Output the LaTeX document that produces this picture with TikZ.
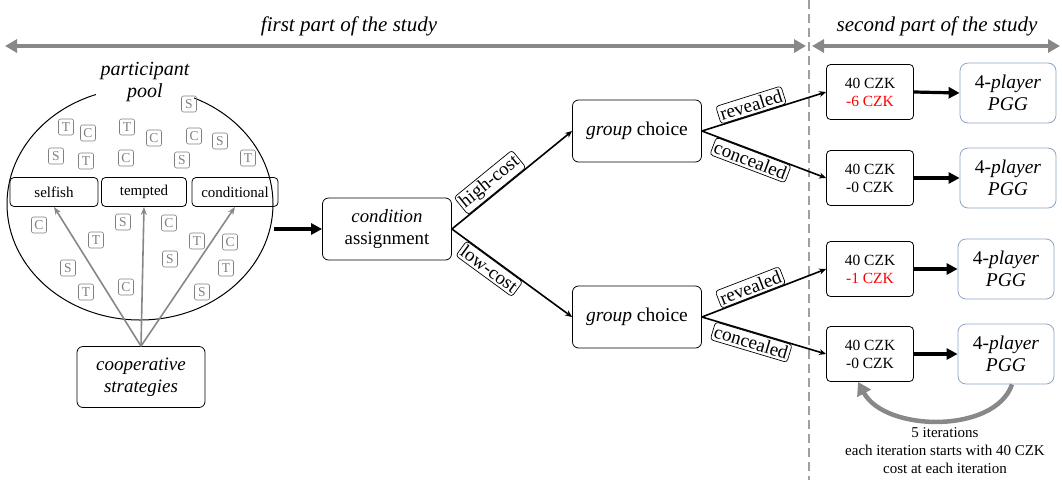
\documentclass[tikz,border=0pt]{standalone}
\usepackage{fontspec}
\setmainfont{Liberation Serif}
\usetikzlibrary{arrows.meta}
\definecolor{pggblue}{HTML}{8FA3C4}
\definecolor{gline}{HTML}{888888}
\begin{document}
\begin{tikzpicture}[x=1pt,y=-1pt,
  box/.style={draw, rounded corners=6pt, line width=0.8pt, align=center, inner sep=0pt},
  typebox/.style={box, rounded corners=4pt, minimum height=29pt, font=\fontsize{15}{17}\selectfont},
  lett/.style={draw=gray, text=gray, rounded corners=2pt, minimum width=15pt, minimum height=16pt, inner sep=0pt, font=\fontsize{13.5}{13.5}\selectfont, line width=0.6pt},
  lbl/.style={draw, rounded corners=3pt, fill=white, line width=0.7pt, inner xsep=2pt, inner ysep=2.5pt, font=\fontsize{19}{19}\selectfont},
  czk/.style={box, rounded corners=4pt, minimum width=87pt, minimum height=55pt, font=\fontsize{15.5}{18}\selectfont},
  pgg/.style={box, draw=pggblue, rounded corners=8pt, minimum width=96pt, minimum height=60pt, font=\fontsize{19.5}{22}\selectfont},
  thin/.style={line width=1.6pt, -{Stealth[length=7pt,width=6pt]}},
  thick/.style={line width=3.2pt, -{Triangle[length=11pt,width=11pt]}},
  garrow/.style={gline, line width=1.6pt, -{Stealth[length=8pt,width=6pt]}},
  toparrow/.style={gline, line width=3.5pt, {Triangle[length=12pt,width=13pt]}-{Triangle[length=12pt,width=13pt]}},
  toplbl/.style={font=\fontsize{21}{21}\selectfont\itshape}
]
\useasboundingbox (0,0) rectangle (1062,480);

% top part arrows
\coordinate (a1) at (5,46);
\coordinate (a2) at (806,46);
\coordinate (b1) at (812,46);
\coordinate (b2) at (1060,46);
\draw[toparrow] (a1) -- (a2);
\draw[toparrow] (b1) -- (b2);
\node[toplbl] (t1) at (349,26) {first part of the study};
\node[toplbl] (t2) at (937,26) {second part of the study};

% dashed separator
\coordinate (d1) at (809,0);
\coordinate (d2) at (809,480);
\draw[gline!80, line width=2.2pt, dash pattern=on 9pt off 5pt] (d1) -- (d2);

% participant pool
\draw[line width=1pt] (140,204) ellipse [x radius=133pt, y radius=116pt];
\node[fill=white, align=center, inner sep=1pt, font=\fontsize{20}{22}\selectfont\itshape, minimum width=98pt] (pp) at (145,82) {participant\\pool};

% letters
\foreach \l/\x/\y in {S/189/104, T/66/127, C/88/133, T/127/127, C/154/138, C/194/136, S/220/141,
  S/56/156, T/86/161, C/126/158, S/182/160, T/248/158,
  C/39/225, S/123/222, C/169/223, T/96/240, T/197/241, C/230/242, S/170/259,
  T/226/268, S/68/268, C/126/287, T/86/292, S/202/292}
  \node[lett] at (\x,\y) {\l};

\node[typebox, minimum width=88pt] (self) at (54,192) {selfish};
\node[typebox, minimum width=85pt] (temp) at (144,192) {tempted};
\node[typebox, minimum width=86pt] (cond) at (235,192) {conditional};

\node[box, minimum width=128pt, minimum height=61pt, font=\fontsize{19}{22}\selectfont\itshape] (coop) at (141,377) {cooperative\\strategies};
\draw[garrow] (coop.north) -- (self.south);
\draw[garrow] (coop.north) -- (temp.south);
\draw[garrow] (coop.north) -- (cond.south);

% condition assignment
\coordinate (pe) at (274,229);
\node[box, minimum width=129pt, minimum height=62pt, font=\fontsize{18.8}{22}\selectfont] (ca) at (387,229) {\textit{condition}\\assignment};
\draw[thick] (pe) -- (ca.west);

% group choices
\node[box, minimum width=129pt, minimum height=62pt, font=\fontsize{19.5}{22}\selectfont] (g1) at (637,131) {\textit{group} choice};
\node[box, minimum width=129pt, minimum height=62pt, font=\fontsize{19.5}{22}\selectfont] (g2) at (637,317) {\textit{group} choice};
\draw[thin] (ca.east) -- node[lbl, sloped, above=0.5pt, pos=0.38] {high-cost} (g1.west);
\draw[thin] (ca.east) -- node[lbl, sloped, below=0.5pt, pos=0.36] {low-cost} (g2.west);

% CZK boxes
\node[czk] (c1) at (870,92) {40 CZK\\\textcolor{red}{-6 CZK}};
\node[czk] (c2) at (870,178) {40 CZK\\-0 CZK};
\node[czk] (c3) at (870,269) {40 CZK\\\textcolor{red}{-1 CZK}};
\node[czk] (c4) at (870,354) {40 CZK\\-0 CZK};

\draw[thin] (g1.east) -- node[lbl, sloped, above=0.5pt, pos=0.42] {revealed} (c1.west);
\draw[thin] (g1.east) -- node[lbl, sloped, below=0.5pt, pos=0.42] {concealed} (c2.west);
\draw[thin] (g2.east) -- node[lbl, sloped, above=0.5pt, pos=0.42] {revealed} (c3.west);
\draw[thin] (g2.east) -- node[lbl, sloped, below=0.5pt, pos=0.42] {concealed} (c4.west);

% PGG boxes
\node[pgg] (p1) at (1008,93) {4-\textit{player}\\\textit{PGG}};
\node[pgg] (p2) at (1008,178) {4-\textit{player}\\\textit{PGG}};
\node[pgg] (p3) at (1006,269) {4-\textit{player}\\\textit{PGG}};
\node[pgg] (p4) at (1006,354) {4-\textit{player}\\\textit{PGG}};

\draw[thick] (c1.east) -- (p1.west);
\draw[thick] (c2.east) -- (p2.west);
\draw[thick] (c3.east) -- (p3.west);
\draw[thick] (c4.east) -- (p4.west);

% iteration loop
\draw[gline, line width=4.5pt, -{Triangle[length=13pt,width=15pt]}] ([xshift=6pt]p4.south) .. controls (995,434) and (885,432) .. ([xshift=-12pt]c4.south);
\node[align=center, font=\fontsize{15}{18}\selectfont] (it) at (945,451) {5 iterations\\each iteration starts with 40 CZK\\cost at each iteration};
\end{tikzpicture}
\end{document}
